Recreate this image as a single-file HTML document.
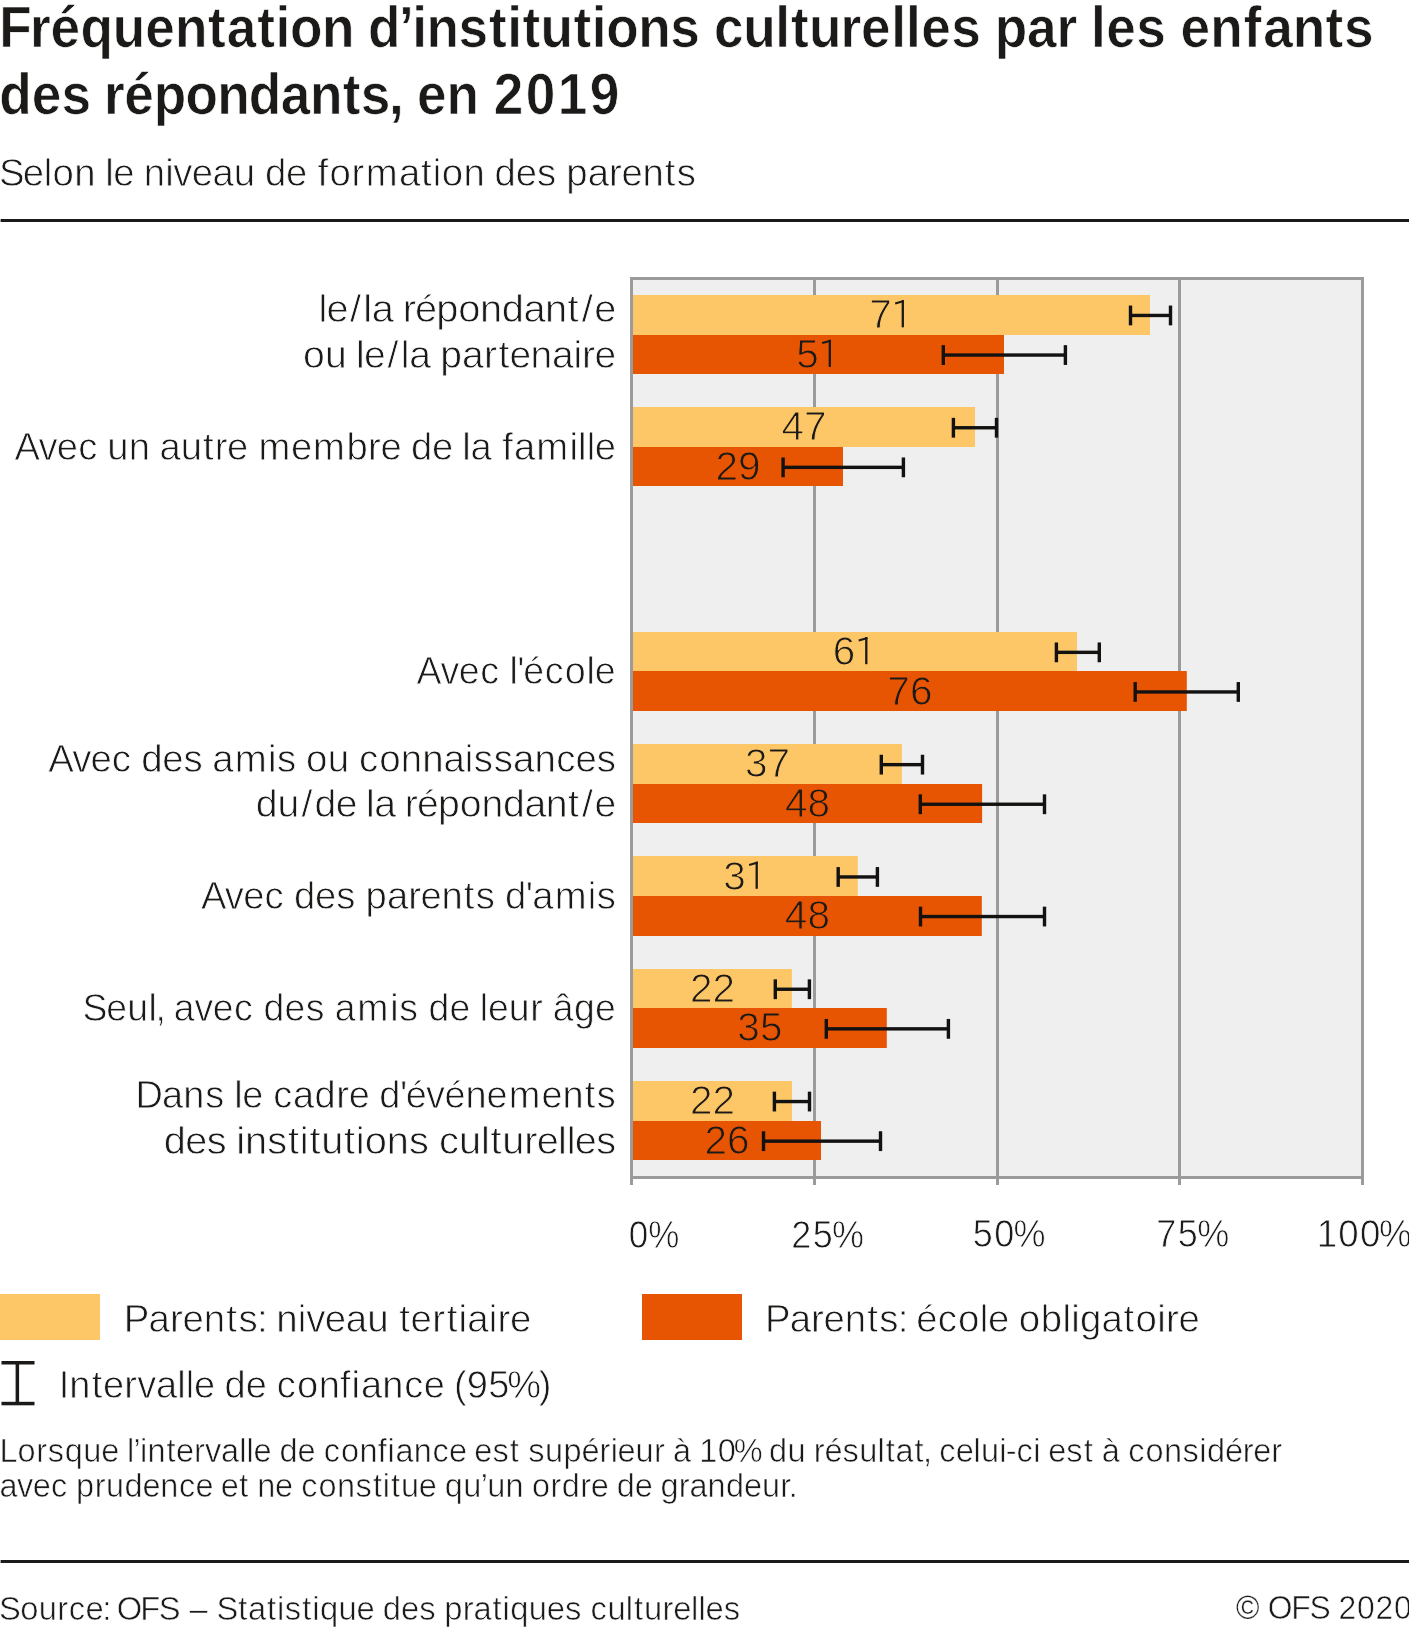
<!DOCTYPE html>
<html><head><meta charset="utf-8"><style>
html,body{margin:0;padding:0;background:#fff;overflow:hidden;width:1409px;height:1634px}
svg{display:block;will-change:transform}
text{font-family:"Liberation Sans",sans-serif;fill:#1b1a18}
.t{font-weight:700;stroke:#fff;stroke-width:0.7px}
.b{font-weight:400;stroke:#fff;stroke-width:0.78px}
.s{font-weight:400;stroke:#fff;stroke-width:0.6px}
.n{font-weight:400}
.c{stroke-width:0.25px}
.v{font-weight:400;stroke-width:1px}
</style></head><body>
<svg width="1409" height="1634" viewBox="0 0 1409 1634">
<rect width="1409" height="1634" fill="#fff"/>
<rect x="0.6" y="219" width="1408.4" height="3" fill="#1b1a18"/>
<rect x="0.6" y="1560" width="1408.4" height="3" fill="#1b1a18"/>
<rect x="630" y="277" width="734" height="902" fill="#efefef"/>
<rect x="630" y="277" width="3" height="908" fill="#9b9b9b"/>
<rect x="813" y="277" width="3" height="908" fill="#9b9b9b"/>
<rect x="996" y="277" width="3" height="908" fill="#9b9b9b"/>
<rect x="1178" y="277" width="3" height="908" fill="#9b9b9b"/>
<rect x="1361" y="277" width="3" height="908" fill="#9b9b9b"/>
<rect x="630" y="277" width="734" height="3" fill="#9b9b9b"/>
<rect x="630" y="1176" width="734" height="3" fill="#9b9b9b"/>
<rect x="633" y="295" width="517.00" height="40" fill="#fdc767"/>
<rect x="633" y="335" width="371.00" height="39" fill="#e85502"/>
<rect x="633" y="407" width="342.00" height="40" fill="#fdc767"/>
<rect x="633" y="447" width="210.00" height="39" fill="#e85502"/>
<rect x="633" y="632" width="444.00" height="39" fill="#fdc767"/>
<rect x="633" y="671" width="553.80" height="40" fill="#e85502"/>
<rect x="633" y="744" width="268.90" height="40" fill="#fdc767"/>
<rect x="633" y="784" width="349.10" height="39" fill="#e85502"/>
<rect x="633" y="856" width="224.80" height="40" fill="#fdc767"/>
<rect x="633" y="896" width="348.80" height="40" fill="#e85502"/>
<rect x="633" y="969" width="158.90" height="39" fill="#fdc767"/>
<rect x="633" y="1008" width="253.80" height="40" fill="#e85502"/>
<rect x="633" y="1081" width="159.00" height="40" fill="#fdc767"/>
<rect x="633" y="1121" width="188.00" height="39" fill="#e85502"/>
<text x="891.90" y="328.00" class="v" font-size="40.5" stroke="#fdc767" text-anchor="end">7</text>
<rect x="901.65" y="300.20" width="2.3" height="27.10" fill="#1b1a18"/>
<path d="M903.90,301.10 L895.20,303.50" stroke="#1b1a18" stroke-width="2.1" fill="none"/>
<text x="818.90" y="367.60" class="v" font-size="40.5" stroke="#e85502" text-anchor="end">5</text>
<rect x="828.65" y="339.80" width="2.3" height="27.10" fill="#1b1a18"/>
<path d="M830.90,340.70 L822.20,343.10" stroke="#1b1a18" stroke-width="2.1" fill="none"/>
<text x="781.47" y="440.30" class="v" font-size="40.5" stroke="#fdc767">47</text>
<text x="715.47" y="479.90" class="v" font-size="40.5" stroke="#e85502">29</text>
<text x="855.40" y="664.90" class="v" font-size="40.5" stroke="#fdc767" text-anchor="end">6</text>
<rect x="865.15" y="637.10" width="2.3" height="27.10" fill="#1b1a18"/>
<path d="M867.40,638.00 L858.70,640.40" stroke="#1b1a18" stroke-width="2.1" fill="none"/>
<text x="887.37" y="704.50" class="v" font-size="40.5" stroke="#e85502">76</text>
<text x="744.92" y="777.20" class="v" font-size="40.5" stroke="#fdc767">37</text>
<text x="785.02" y="816.80" class="v" font-size="40.5" stroke="#e85502">48</text>
<text x="745.80" y="889.50" class="v" font-size="40.5" stroke="#fdc767" text-anchor="end">3</text>
<rect x="755.55" y="861.70" width="2.3" height="27.10" fill="#1b1a18"/>
<path d="M757.80,862.60 L749.10,865.00" stroke="#1b1a18" stroke-width="2.1" fill="none"/>
<text x="784.87" y="929.10" class="v" font-size="40.5" stroke="#e85502">48</text>
<text x="689.92" y="1001.80" class="v" font-size="40.5" stroke="#fdc767">22</text>
<text x="737.37" y="1041.40" class="v" font-size="40.5" stroke="#e85502">35</text>
<text x="689.97" y="1114.10" class="v" font-size="40.5" stroke="#fdc767">22</text>
<text x="704.47" y="1153.70" class="v" font-size="40.5" stroke="#e85502">26</text>
<rect x="1130.50" y="313.75" width="40.00" height="3.4" fill="#131211"/>
<rect x="1128.80" y="305.55" width="3.4" height="19.8" fill="#131211"/>
<rect x="1168.80" y="305.55" width="3.4" height="19.8" fill="#131211"/>
<rect x="943.30" y="353.35" width="122.10" height="3.4" fill="#131211"/>
<rect x="941.60" y="345.15" width="3.4" height="19.8" fill="#131211"/>
<rect x="1063.70" y="345.15" width="3.4" height="19.8" fill="#131211"/>
<rect x="953.40" y="426.05" width="43.10" height="3.4" fill="#131211"/>
<rect x="951.70" y="417.85" width="3.4" height="19.8" fill="#131211"/>
<rect x="994.80" y="417.85" width="3.4" height="19.8" fill="#131211"/>
<rect x="783.10" y="465.65" width="120.30" height="3.4" fill="#131211"/>
<rect x="781.40" y="457.45" width="3.4" height="19.8" fill="#131211"/>
<rect x="901.70" y="457.45" width="3.4" height="19.8" fill="#131211"/>
<rect x="1056.40" y="650.65" width="42.90" height="3.4" fill="#131211"/>
<rect x="1054.70" y="642.45" width="3.4" height="19.8" fill="#131211"/>
<rect x="1097.60" y="642.45" width="3.4" height="19.8" fill="#131211"/>
<rect x="1135.20" y="690.25" width="103.10" height="3.4" fill="#131211"/>
<rect x="1133.50" y="682.05" width="3.4" height="19.8" fill="#131211"/>
<rect x="1236.60" y="682.05" width="3.4" height="19.8" fill="#131211"/>
<rect x="881.30" y="762.95" width="41.20" height="3.4" fill="#131211"/>
<rect x="879.60" y="754.75" width="3.4" height="19.8" fill="#131211"/>
<rect x="920.80" y="754.75" width="3.4" height="19.8" fill="#131211"/>
<rect x="920.30" y="802.55" width="124.20" height="3.4" fill="#131211"/>
<rect x="918.60" y="794.35" width="3.4" height="19.8" fill="#131211"/>
<rect x="1042.80" y="794.35" width="3.4" height="19.8" fill="#131211"/>
<rect x="838.20" y="875.25" width="39.20" height="3.4" fill="#131211"/>
<rect x="836.50" y="867.05" width="3.4" height="19.8" fill="#131211"/>
<rect x="875.70" y="867.05" width="3.4" height="19.8" fill="#131211"/>
<rect x="920.50" y="914.85" width="124.00" height="3.4" fill="#131211"/>
<rect x="918.80" y="906.65" width="3.4" height="19.8" fill="#131211"/>
<rect x="1042.80" y="906.65" width="3.4" height="19.8" fill="#131211"/>
<rect x="775.30" y="987.55" width="34.10" height="3.4" fill="#131211"/>
<rect x="773.60" y="979.35" width="3.4" height="19.8" fill="#131211"/>
<rect x="807.70" y="979.35" width="3.4" height="19.8" fill="#131211"/>
<rect x="826.30" y="1027.15" width="122.10" height="3.4" fill="#131211"/>
<rect x="824.60" y="1018.95" width="3.4" height="19.8" fill="#131211"/>
<rect x="946.70" y="1018.95" width="3.4" height="19.8" fill="#131211"/>
<rect x="774.40" y="1099.85" width="35.10" height="3.4" fill="#131211"/>
<rect x="772.70" y="1091.65" width="3.4" height="19.8" fill="#131211"/>
<rect x="807.80" y="1091.65" width="3.4" height="19.8" fill="#131211"/>
<rect x="763.50" y="1139.45" width="117.00" height="3.4" fill="#131211"/>
<rect x="761.80" y="1131.25" width="3.4" height="19.8" fill="#131211"/>
<rect x="878.80" y="1131.25" width="3.4" height="19.8" fill="#131211"/>
<rect x="0" y="1294" width="100" height="46" fill="#fdc767"/>
<rect x="642" y="1294" width="100" height="46" fill="#e85502"/>
<rect x="1.5" y="1361" width="33" height="3.5" fill="#1b1a18"/>
<rect x="1.5" y="1401.8" width="33" height="3.5" fill="#1b1a18"/>
<rect x="15.6" y="1361" width="3.5" height="44" fill="#1b1a18"/>
<text transform="translate(0,47.40) scale(0.9324,1)" x="-0.95 32.16 54.18 86.41 120.80 155.84 187.77 223.07 243.20 276.04 295.57 311.04 345.43 379.58 394.74 427.97 442.28 457.44 491.87 524.41 543.94 560.33 579.80 615.12 634.65 650.12 684.51 718.94 750.31 765.81 797.13 831.58 848.27 867.74 901.46 923.48 955.76 971.59 988.01 1020.27 1051.64 1066.81 1101.54 1133.09 1154.52 1170.04 1186.46 1218.73 1250.10 1266.21 1298.13 1334.05 1354.78 1386.40 1421.71 1441.53" class="t" font-size="57">Fréquentation d’institutions culturelles par les enfants</text>
<text transform="translate(0,113.90) scale(0.9328,1)" x="-0.71 33.97 65.88 97.00 111.60 133.33 164.89 198.92 232.94 266.67 301.04 332.30 367.32 386.85 417.07 431.22 447.07 478.63 512.51 529.27 563.60 597.92 632.25" class="t" font-size="57">des répondants, en 2019</text>
<text transform="translate(0,186.40) scale(0.9694,1)" x="-1.11 23.50 45.06 54.23 76.66 98.12 108.52 116.88 137.73 148.20 170.36 178.82 197.72 219.14 241.17 262.63 273.30 295.13 315.99 327.51 339.99 362.59 377.37 411.54 434.42 446.43 455.60 478.03 499.49 510.16 531.99 553.92 573.46 584.13 606.37 628.35 641.12 662.75 685.83 698.22" class="b" font-size="39.5">Selon le niveau de formation des parents</text>
<text transform="translate(0,322.20) scale(1.0086,1)" x="315.83 323.66 347.09 360.28 368.50 389.20 399.22 411.39 432.44 454.27 475.92 497.56 519.00 540.25 562.71 576.75 589.18" class="b" font-size="39.5">le/la répondant/e</text>
<text transform="translate(0,367.80) scale(0.9884,1)" x="306.64 328.72 349.93 360.18 368.30 392.11 405.54 414.06 435.08 445.50 467.38 489.69 504.31 515.52 536.81 558.49 580.21 588.96 601.47" class="b" font-size="39.5">ou le/la partenaire</text>
<text transform="translate(0,459.50) scale(0.9672,1)" x="15.12 39.86 58.73 80.83 100.55 111.00 133.20 154.64 164.88 186.88 209.94 221.96 234.71 255.54 267.18 300.91 323.69 358.22 380.59 393.33 414.17 424.82 446.61 467.45 477.83 486.57 507.81 519.31 531.37 554.56 588.83 597.71 606.58 614.92" class="b" font-size="39.5">Avec un autre membre de la famille</text>
<text transform="translate(0,683.70) scale(0.9510,1)" x="437.95 463.18 482.51 505.08 525.16 535.75 543.80 550.21 572.79 593.97 616.67 625.35" class="b" font-size="39.5">Avec l'école</text>
<text transform="translate(0,771.50) scale(0.9727,1)" x="49.62 74.24 93.01 115.00 134.65 145.22 166.90 188.69 208.14 218.30 241.34 275.50 284.67 304.11 314.68 336.96 358.32 369.20 389.77 412.06 434.14 456.03 477.88 487.05 507.53 527.50 549.39 571.98 591.75 613.54" class="b" font-size="39.5">Avec des amis ou connaissances</text>
<text transform="translate(0,817.30) scale(0.9923,1)" x="257.84 279.61 303.74 317.07 338.26 358.66 368.78 377.10 397.89 407.99 420.25 441.43 463.41 485.18 506.95 528.53 549.91 572.47 586.59 599.14" class="b" font-size="39.5">du/de la répondant/e</text>
<text transform="translate(0,908.50) scale(0.9683,1)" x="207.50 232.22 251.09 273.18 292.90 303.54 325.33 347.22 366.74 377.38 399.57 421.53 434.27 455.86 478.91 491.26 510.78 521.42 542.96 549.67 572.85 607.10 616.34" class="b" font-size="39.5">Avec des parents d'amis</text>
<text transform="translate(0,1020.70) scale(0.9462,1)" x="87.30 112.41 134.52 157.02 164.39 173.27 183.68 205.45 224.78 247.37 267.46 278.49 300.80 323.18 343.06 353.68 377.54 412.33 421.92 441.80 452.83 475.14 496.33 506.93 515.62 537.73 560.52 573.59 584.20 606.72 628.82" class="b" font-size="39.5">Seul, avec des amis de leur âge</text>
<text transform="translate(0,1108.00) scale(0.9609,1)" x="140.93 168.50 190.77 213.52 233.22 243.72 252.23 273.25 284.38 304.92 327.39 349.97 362.92 383.94 394.78 416.29 422.34 443.47 462.58 484.43 506.28 529.40 563.46 585.31 608.58 621.14" class="b" font-size="39.5">Dans le cadre d'événements</text>
<text transform="translate(0,1153.50) scale(1.0054,1)" x="162.91 184.24 205.68 224.88 235.06 243.67 265.71 286.49 298.26 307.82 319.50 342.18 353.94 362.75 384.67 406.71 425.91 436.53 456.55 478.35 487.92 499.60 521.38 533.76 554.97 563.66 571.68 593.13" class="b" font-size="39.5">des institutions culturelles</text>
<text transform="translate(0,1247.60) scale(0.8857,1)" x="709.94 731.91" class="b" font-size="39.5">0%</text>
<text transform="translate(0,1247.60) scale(0.9122,1)" x="867.39 891.02 912.16" class="b" font-size="39.5">25%</text>
<text transform="translate(0,1247.40) scale(0.9122,1)" x="1066.38 1090.02 1111.16" class="b" font-size="39.5">50%</text>
<text transform="translate(0,1247.20) scale(0.9122,1)" x="1267.59 1291.23 1312.37" class="b" font-size="39.5">75%</text>
<text transform="translate(0,1246.80) scale(0.9272,1)" x="1420.18 1443.43 1466.68 1487.38" class="b" font-size="39.5">100%</text>
<text transform="translate(0,1332.20) scale(0.9735,1)" x="127.16 152.53 174.63 187.51 209.26 232.46 244.95 263.98 273.13 283.70 305.95 314.50 333.52 355.08 377.24 398.81 410.19 421.78 444.08 459.00 471.08 479.94 502.00 510.99 523.87" class="b" font-size="39.5">Parents: niveau tertiaire</text>
<text transform="translate(0,1332.20) scale(0.9718,1)" x="787.26 812.57 834.63 847.46 869.16 892.31 904.76 923.76 932.88 942.81 965.01 985.81 1008.23 1016.65 1037.56 1048.29 1071.01 1093.43 1102.36 1111.38 1133.49 1156.23 1168.39 1190.80 1199.77 1212.61" class="b" font-size="39.5">Parents: école obligatoire</text>
<text transform="translate(0,1398.10) scale(0.9623,1)" x="60.99 72.02 95.27 106.92 129.08 142.51 162.01 184.11 193.09 201.60 222.60 233.42 255.46 276.47 287.59 308.51 331.17 353.29 365.21 375.04 397.27 420.22 440.33 461.34 471.67 485.02 507.46 527.21 559.82" class="b" font-size="39.5">Intervalle de confiance (95%)</text>
<text transform="translate(0,1462.20) scale(0.9700,1)" x="-0.61 18.16 37.40 49.24 66.72 85.83 104.26 122.01 130.86 137.58 144.30 151.96 171.60 181.41 200.12 211.45 227.90 246.58 254.16 261.31 279.05 288.17 306.77 324.52 333.88 351.54 370.65 389.35 399.41 407.68 426.45 445.81 462.78 480.53 488.96 507.63 525.65 535.29 544.48 561.80 580.91 599.50 618.05 629.55 636.70 655.13 674.19 685.10 693.87 711.97 720.91 739.85 756.48 783.60 792.72 811.83 830.10 838.99 849.89 868.57 885.88 904.73 913.10 923.24 942.71 951.50 958.90 968.27 985.24 1003.57 1011.24 1030.09 1036.84 1047.82 1065.22 1072.21 1080.63 1099.31 1117.32 1126.97 1135.74 1153.83 1163.20 1180.85 1199.97 1219.16 1236.39 1244.22 1262.82 1281.20 1292.10 1310.64" class="s" font-size="33.5">Lorsque l’intervalle de confiance est supérieur à 10% du résultat, celui-ci est à considérer</text>
<text transform="translate(0,1497.10) scale(0.9684,1)" x="-0.47 17.68 33.78 52.62 69.43 78.53 97.76 109.34 128.45 147.04 165.45 184.81 201.77 219.52 227.94 247.05 256.69 265.63 284.05 301.79 311.15 328.80 347.90 367.09 385.10 395.32 403.69 414.00 432.42 450.16 459.26 478.37 496.36 503.16 522.09 540.35 549.46 568.51 580.09 599.15 610.05 627.79 636.90 655.49 673.23 682.16 700.88 711.94 730.70 749.81 768.40 786.81 805.76 814.54" class="s" font-size="33.5">avec prudence et ne constitue qu’un ordre de grandeur.</text>
<text transform="translate(0,1619.50) scale(0.9766,1)" x="-0.96 20.68 39.78 58.66 70.48 87.44 104.66 112.40 119.68 143.65 162.49 183.29 193.94 213.92 221.68 243.86 253.99 273.45 283.67 291.58 309.58 319.81 327.63 346.73 365.14 382.88 391.98 410.57 429.23 445.86 454.96 473.84 484.90 504.36 514.58 522.41 541.51 559.92 578.58 595.20 604.56 622.03 640.87 649.23 659.54 678.42 689.30 707.63 715.21 722.34 741.00" class="s" font-size="33.5">Source: OFS – Statistique des pratiques culturelles</text>
<text transform="translate(0,1618.50) scale(0.9514,1)" x="1299.06 1324.93 1332.61 1357.12 1376.48 1397.64 1406.92 1426.34 1445.75 1465.17" class="s" font-size="33.5"><tspan class="c">©</tspan> OFS 2020</text>
</svg>
</body></html>
